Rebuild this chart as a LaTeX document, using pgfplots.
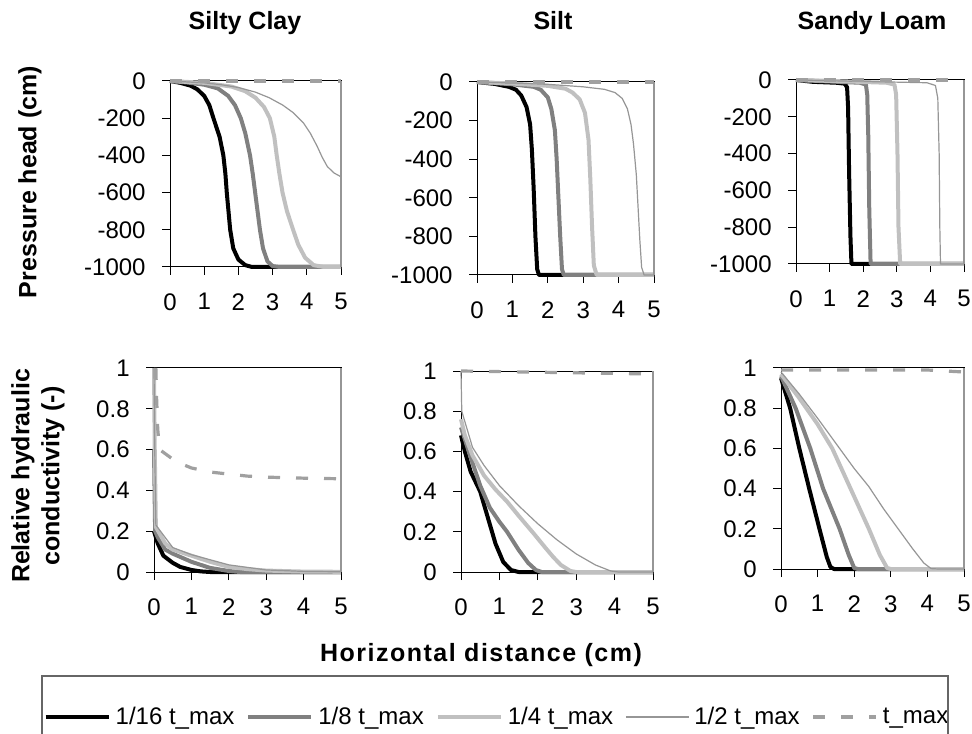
\documentclass[border=0pt]{standalone}
\usepackage{fontspec}
\setmainfont{Liberation Sans}
\usepackage{pgfplots}
\pgfplotsset{compat=1.18}

\definecolor{c8}{HTML}{808080}
\definecolor{c4}{HTML}{C0C0C0}
\definecolor{c2}{HTML}{969696}
\definecolor{cmax}{HTML}{A0A0A0}

\newcommand\tf{\fontsize{12}{14}\selectfont}
\newcommand\titfont{\fontsize{12.5}{15}\selectfont\bfseries}
\newcommand\legfont{\fontsize{12}{14}\selectfont}

\pgfplotsset{
  panel/.style={scale only axis, anchor=south west, clip=false,
    xmin=0, xmax=5, xtick={0,1,2,3,4,5},
    xticklabels={{\tf 0},{\tf 1},{\tf 2},{\tf 3},{\tf 4},{\tf 5}},
    tick align=outside, tick pos=left, major tick length=4pt,
    tick style={black, line width=0.5pt},
    axis line style={black, line width=0.5pt},
    tick label style={font=\tf, inner sep=2pt},
    /pgf/number format/assume math mode=true,
    xticklabel style={yshift=-7pt},
    yticklabel style={xshift=-6pt},
    after end axis/.code={\draw[c2, line width=0.6pt] (rel axis cs:1,0) -- (rel axis cs:1,1);},
  },
  toprow/.style={panel, ymin=-1000, ymax=0, ytick={-1000,-800,-600,-400,-200,0},
    yticklabels={{\tf -1000},{\tf -800},{\tf -600},{\tf -400},{\tf -200},{\tf 0}}},
  botrow/.style={panel, ymin=0, ymax=1, ytick={0,0.2,0.4,0.6,0.8,1},
    yticklabels={{\tf 0},{\tf 0.2},{\tf 0.4},{\tf 0.6},{\tf 0.8},{\tf 1}}},
  s16/.style={black, line width=2pt, line join=round},
  s8/.style={c8, line width=2pt, line join=round},
  s4/.style={c4, line width=2pt, line join=round},
  s2/.style={c2, line width=0.6pt, line join=round},
  smax/.style={cmax, line width=1.6pt, dash pattern=on 6pt off 8pt},
}

\begin{document}
\begin{tikzpicture}
\path[use as bounding box] (0pt,0pt) rectangle (486pt,366.5pt);

% ---------- Silty Clay, pressure head
\begin{axis}[toprow, at={(85pt,233pt)}, width=85.5pt, height=93pt]
\addplot[s16] coordinates {(0,0)(0.3,-10)(0.6,-25)(0.8,-45)(1.0,-80)(1.15,-130)(1.27,-200)(1.45,-300)(1.56,-400)(1.62,-500)(1.66,-600)(1.71,-700)(1.76,-800)(1.85,-900)(2.0,-960)(2.2,-990)(2.4,-1000)(5,-1000)};
\addplot[s8] coordinates {(0,0)(0.5,-8)(1.0,-20)(1.4,-40)(1.7,-80)(1.9,-130)(2.07,-200)(2.2,-280)(2.34,-400)(2.42,-500)(2.49,-600)(2.56,-700)(2.63,-800)(2.72,-900)(2.85,-970)(3.0,-995)(3.2,-1000)(5,-1000)};
\addplot[s4] coordinates {(0,0)(1,-10)(1.8,-30)(2.2,-55)(2.5,-90)(2.75,-140)(2.92,-200)(3.05,-300)(3.12,-400)(3.2,-500)(3.29,-600)(3.42,-700)(3.6,-800)(3.75,-880)(3.95,-950)(4.2,-990)(4.5,-1000)(5,-1000)};
\addplot[s2] coordinates {(0,0)(1,-10)(1.5,-20)(2,-35)(2.5,-60)(2.9,-90)(3.3,-130)(3.6,-170)(3.9,-225)(4.1,-280)(4.3,-350)(4.45,-410)(4.6,-460)(4.8,-495)(5,-515)};
\addplot[smax] coordinates {(0,0)(5,0)};
\end{axis}

% ---------- Silt, pressure head
\begin{axis}[toprow, at={(238.5pt,229pt)}, width=88.5pt, height=96.5pt]
\addplot[s16] coordinates {(0,0)(0.5,-10)(0.9,-25)(1.1,-40)(1.25,-70)(1.4,-130)(1.5,-220)(1.55,-350)(1.6,-550)(1.65,-800)(1.7,-970)(1.75,-1000)(5,-1000)};
\addplot[s8] coordinates {(0,0)(1,-12)(1.6,-25)(1.8,-40)(2.0,-80)(2.1,-140)(2.2,-250)(2.25,-400)(2.3,-600)(2.35,-800)(2.4,-970)(2.45,-1000)(5,-1000)};
\addplot[s4] coordinates {(0,0)(1,-8)(2,-20)(2.5,-35)(2.7,-55)(2.9,-90)(3.05,-160)(3.15,-300)(3.2,-500)(3.25,-750)(3.3,-950)(3.38,-1000)(5,-1000)};
\addplot[s2] coordinates {(0,0)(1,-5)(2,-12)(3,-25)(3.6,-38)(3.9,-55)(4.1,-85)(4.25,-140)(4.35,-220)(4.42,-320)(4.5,-480)(4.55,-650)(4.6,-820)(4.65,-960)(4.72,-1000)(5,-1000)};
\addplot[smax] coordinates {(0,0)(5,0)};
\end{axis}

% ---------- Sandy Loam, pressure head
\begin{axis}[toprow, at={(398pt,234.5pt)}, width=84pt, height=92pt]
\addplot[s16] coordinates {(0,0)(0.5,-10)(1.2,-15)(1.45,-20)(1.52,-40)(1.55,-150)(1.58,-500)(1.62,-850)(1.65,-1000)(5,-1000)};
\addplot[s8] coordinates {(0,0)(1,-8)(1.9,-15)(2.08,-25)(2.12,-80)(2.15,-300)(2.18,-700)(2.22,-1000)(5,-1000)};
\addplot[s4] coordinates {(0,0)(1,-5)(2.7,-15)(2.93,-25)(2.98,-80)(3.02,-400)(3.05,-800)(3.1,-1000)(5,-1000)};
\addplot[s2] coordinates {(0,0)(2,-8)(3.9,-15)(4.15,-30)(4.22,-100)(4.26,-400)(4.28,-800)(4.3,-1000)(5,-1000)};
\addplot[smax] coordinates {(0,0)(5,0)};
\end{axis}

% ---------- Silty Clay, conductivity
\begin{axis}[botrow, at={(77pt,80.5pt)}, width=93.5pt, height=102pt]
\addplot[s16] coordinates {(0,0.2)(0.1,0.14)(0.25,0.08)(0.5,0.045)(0.7,0.025)(1.0,0.01)(1.25,0.003)(1.5,0)(5,0)};
\addplot[s8] coordinates {(0,0.6)(0.03,0.2)(0.1,0.17)(0.3,0.11)(0.5,0.09)(1,0.05)(1.5,0.02)(2,0.005)(2.3,0)(5,0)};
\addplot[s4] coordinates {(0,1)(0.02,0.6)(0.05,0.22)(0.3,0.14)(0.5,0.11)(1,0.08)(1.5,0.05)(2,0.025)(2.5,0.014)(3,0.007)(4,0.002)(5,0.001)};
\addplot[s2] coordinates {(0,1)(0.02,0.6)(0.05,0.23)(0.5,0.12)(1,0.085)(2,0.035)(3,0.01)(4,0.003)(5,0.001)};
\addplot[smax] coordinates {(0.05,1)(0.07,0.85)(0.1,0.7)(0.15,0.6)(0.3,0.58)(0.6,0.54)(1,0.51)(1.5,0.49)(2,0.48)(2.5,0.47)(3,0.465)(4,0.46)(5,0.457)};
\end{axis}

% ---------- Silt, conductivity (carries legend)
\begin{axis}[botrow, at={(230.5pt,80.5pt)}, width=96pt, height=100.5pt,
  legend columns=5,
  legend image code/.code={\draw[#1] (0pt,0pt) -- (31.5pt,0pt);},
  legend style={draw=none, fill=none, font=\legfont,
    at={(axis description cs:0.1875,-0.7214)}, anchor=center,
    nodes={inner xsep=1pt, inner ysep=1pt},
    /tikz/every odd column/.append style={column sep=1.5pt},
    /tikz/every even column/.append style={column sep=5pt}}]
\addplot[s16] coordinates {(0,0.68)(0.1,0.6)(0.25,0.5)(0.5,0.4)(0.7,0.27)(0.9,0.14)(1.1,0.05)(1.3,0.01)(1.5,0)(5,0)};
\addplot[s8] coordinates {(0,0.72)(0.2,0.6)(0.5,0.43)(0.75,0.32)(1.0,0.25)(1.2,0.2)(1.5,0.11)(1.75,0.045)(1.95,0.01)(2.1,0)(5,0)};
\addplot[s4] coordinates {(0,0.76)(0.1,0.68)(0.3,0.58)(0.6,0.48)(0.9,0.41)(1.2,0.35)(1.5,0.28)(1.9,0.19)(2.2,0.12)(2.4,0.075)(2.6,0.035)(2.85,0.005)(3,0)(5,0)};
\addplot[s2] coordinates {(0,1)(0.02,0.8)(0.3,0.62)(0.6,0.53)(1,0.43)(1.5,0.33)(2,0.24)(2.5,0.16)(3,0.09)(3.5,0.035)(3.9,0.005)(4.1,0)(5,0)};
\addplot[smax] coordinates {(0,1)(5,0.985)};
\legend{1/16 t\_max, 1/8 t\_max, 1/4 t\_max, 1/2 t\_max, t\_max}
\end{axis}

% ---------- Sandy Loam, conductivity
\begin{axis}[botrow, at={(390.5pt,82pt)}, width=91.5pt, height=100.5pt]
\addplot[s16] coordinates {(0,0.95)(0.25,0.8)(0.5,0.6)(0.77,0.4)(1.05,0.2)(1.25,0.06)(1.35,0.01)(1.45,0)(5,0)};
\addplot[s8] coordinates {(0,0.96)(0.4,0.8)(0.8,0.6)(1.15,0.4)(1.6,0.2)(1.85,0.07)(2.0,0.005)(2.1,0)(5,0)};
\addplot[s4] coordinates {(0,0.97)(0.5,0.85)(1.0,0.72)(1.4,0.6)(1.9,0.4)(2.4,0.2)(2.7,0.07)(2.9,0.005)(3,0)(5,0)};
\addplot[s2] coordinates {(0,0.98)(0.5,0.87)(1.0,0.75)(1.6,0.6)(2.0,0.5)(2.4,0.41)(2.8,0.3)(3.2,0.2)(3.6,0.1)(3.9,0.03)(4.1,0.002)(4.3,0)(5,0)};
\addplot[smax] coordinates {(0,0.99)(4,0.99)(5,0.98)};
\end{axis}

% ---------- titles and labels
\node[font=\titfont, anchor=base] at (122.5pt,351.5pt) {Silty Clay};
\node[font=\titfont, anchor=base] at (276.5pt,351.5pt) {Silt};
\node[font=\titfont, anchor=base] at (436pt,351.5pt) {Sandy Loam};
\node[font=\titfont, rotate=90] at (15pt,275.5pt) {Pressure head (cm)};
\node[font=\titfont, rotate=90, align=center] at (19pt,128.5pt) {Relative hydraulic\\conductivity (-)};
\node[font=\titfont\addfontfeature{LetterSpace=6}] at (240.5pt,39pt) {Horizontal distance (cm)};
\draw[black!60, line width=0.6pt] (21pt,-20pt) rectangle (474pt,28.5pt);
% scale check: 60px-wide bar under the legend frame top-left (diagnostic, outside picture)
\end{tikzpicture}
\end{document}
